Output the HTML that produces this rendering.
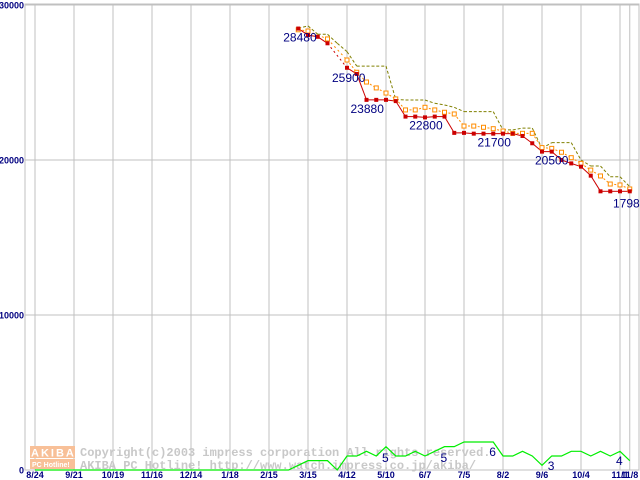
<!DOCTYPE html>
<html><head><meta charset="utf-8"><style>
html,body{margin:0;padding:0;background:#fff;}
svg{display:block;}
.tk{font-family:"Liberation Sans",sans-serif;font-size:9px;font-weight:bold;fill:#000080;}
.vl{font-family:"Liberation Sans",sans-serif;font-size:12px;fill:#000080;}
.wm{font-family:"Liberation Mono",monospace;font-size:12px;font-weight:bold;fill:#c8c8c8;}
</style></head><body>
<svg id="chart" width="640" height="480" xmlns="http://www.w3.org/2000/svg">
<g id="grid"></g>
<g id="wm">
 <rect x="30" y="446" width="45" height="12" fill="#f8c098"/>
 <text x="31" y="456.5" style="font-family:'Liberation Sans',sans-serif;font-size:11px;font-weight:bold;fill:#fff;letter-spacing:2px">AKIBA</text>
 <rect x="30" y="459" width="45" height="10" fill="#f8c098"/>
 <text x="32" y="467" style="font-family:'Liberation Sans',sans-serif;font-size:7px;font-weight:bold;fill:#fff">PC Hotline!</text>
 <text class="wm" x="80" y="456">Copyright(c)2003 impress corporation All rights reserved.</text>
 <text class="wm" x="80" y="469">AKIBA PC Hotline!  http://www.watch.impress.co.jp/akiba/</text>
</g>
<g id="series"></g>
<g id="labels"></g>
</svg>
<script>
const xTickLabels=["8/24","9/21","10/19","11/16","12/14","1/18","2/15","3/15","4/12","5/10","6/7","7/5","8/2","9/6","10/4","11/1","11/8"];
const xTickWeeks=[0,4,8,12,16,20,24,28,32,36,40,44,48,52,56,60,61];
const yTicks=[0,10000,20000,30000];
const startWeek=27;
const minPrice=[28480,28060,27950,27530,null,25950,25550,23880,23880,23880,23800,22800,22800,22750,22800,22800,21750,21750,21700,21700,21700,21700,21700,21550,21080,20540,20540,20000,19780,19570,18990,17980,17980,17980,17980];
const avgPrice=[28400,28320,null,27810,null,26450,25660,25030,24650,24320,23940,23230,23230,23400,23230,23080,22970,22190,22190,22110,22020,21870,21720,21720,21720,20800,20750,20500,20150,19780,19350,18970,18450,18390,18130];
const maxPrice=[28500,28650,28110,28110,27530,26990,26060,26060,26060,26060,23910,23870,23870,23870,23660,23550,23400,23120,23120,23120,23120,21940,21940,22060,22060,20750,21120,21120,21120,20000,19610,19610,18920,18920,18280];
const shopWeeks=[0,26,27,28,29,30,31,32,33,34,35,36,37,38,39,40,41,42,43,44,45,46,47,48,49,50,51,52,53,54,55,56,57,58,59,60,61];
const shopCount=[0,0,1,2,2,2,0,3,3,4,3,5,3,3,4,3,4,5,5,6,6,6,6,3,3,4,3,1,3,3,4,4,3,4,3,4,2];
const priceLabels=[{w:27,v:"28480",dx:-15,dy:13},{w:32,v:"25900",dx:-15,dy:14},{w:34,v:"23880",dx:-16,dy:13},{w:39,v:"22800",dx:-6,dy:13},{w:46,v:"21700",dx:-6,dy:13},{w:52,v:"20500",dx:-7,dy:13},{w:60,v:"17980",dx:-7,dy:16}];
const countLabels=[{w:36,v:"5"},{w:42,v:"5"},{w:47,v:"6"},{w:53,v:"3"},{w:60,v:"4"}];
const countLabelY=[462,462,456,470,465];
const NS="http://www.w3.org/2000/svg";
function xs(w){return 35+w*9.75;}
function ys(v){return 470-v*0.0155;}
function yc(c){return 470-c*4.67;}
function mk(t,a,p){const e=document.createElementNS(NS,t);for(const k in a)e.setAttribute(k,a[k]);(p||document.getElementById('series')).appendChild(e);return e;}
const grid=document.getElementById('grid');
mk('rect',{x:25,y:4,width:614,height:466,fill:'none',stroke:'#c0c0c0'},grid);
xTickWeeks.forEach((w,i)=>{
 const l=mk('line',{x1:xs(w),x2:xs(w),y1:4,y2:470,stroke:'#c0c0c0'},grid);
 
 
 const t=mk('text',{x:xs(w),y:478,'text-anchor':'middle',class:'tk'},grid);
 t.textContent=xTickLabels[i];
 
 
});
yTicks.forEach(v=>{
 const l=mk('line',{x1:25,x2:639,y1:ys(v),y2:ys(v),stroke:'#c0c0c0'},grid);
 
 
 const t=mk('text',{x:24,y:ys(v)+3.5,'text-anchor':'end',class:'tk'},grid);
 t.textContent=String(v);
 
 
});
mk('line',{x1:25,x2:25,y1:4,y2:470,stroke:'#c0c0c0'},grid);
{
 const pts=shopWeeks.map((w,i)=>xs(w)+','+yc(shopCount[i])).join(' ');
 const p=mk('polyline',{points:pts,fill:'none',stroke:'#00ee00','stroke-width':1.2});
 
 
}
function drawSeries(arr,color,dash,name){
 let prev=null;
 const segs=[];
 arr.forEach((v,i)=>{
  if(v==null)return;
  const w=startWeek+i;
  if(prev){segs.push({a:prev,b:[xs(w),ys(v)]});}
  prev=[xs(w),ys(v)];prev.gap=false;
  if(i+1<arr.length&&arr[i+1]==null)prev.gap=true;
 });
 segs.forEach(s=>{
  const l=mk('line',{x1:s.a[0],y1:s.a[1],x2:s.b[0],y2:s.b[1],stroke:color,'stroke-width':1,'stroke-dasharray':s.a.gap?'2,3':dash});
  
  
 });
}
drawSeries(maxPrice,'#808000','3,2','max-price');
drawSeries(avgPrice,'#ff8c00','2,2','avg-price');
drawSeries(minPrice,'#cc0000','','min-price');
avgPrice.forEach((v,i)=>{if(v==null)return;
 const r=mk('rect',{x:xs(startWeek+i)-2,y:ys(v)-2,width:4,height:4,fill:'#fff',stroke:'#ff8c00','stroke-width':1});
 
 
});
minPrice.forEach((v,i)=>{if(v==null)return;
 const r=mk('rect',{x:xs(startWeek+i)-2,y:ys(v)-2,width:4,height:4,fill:'#cc0000'});
 
 
});
const lab=document.getElementById('labels');
priceLabels.forEach(o=>{
 const i=o.w-startWeek;
 const t=mk('text',{x:xs(o.w)+o.dx,y:ys(minPrice[i])+o.dy,class:'vl'},lab);
 t.textContent=o.v;
 
 
});
countLabels.forEach((o,i)=>{
 const t=mk('text',{x:xs(o.w)-4,y:countLabelY[i],class:'vl'},lab);
 t.textContent=o.v;
 
 
});
</script>
</body></html>
